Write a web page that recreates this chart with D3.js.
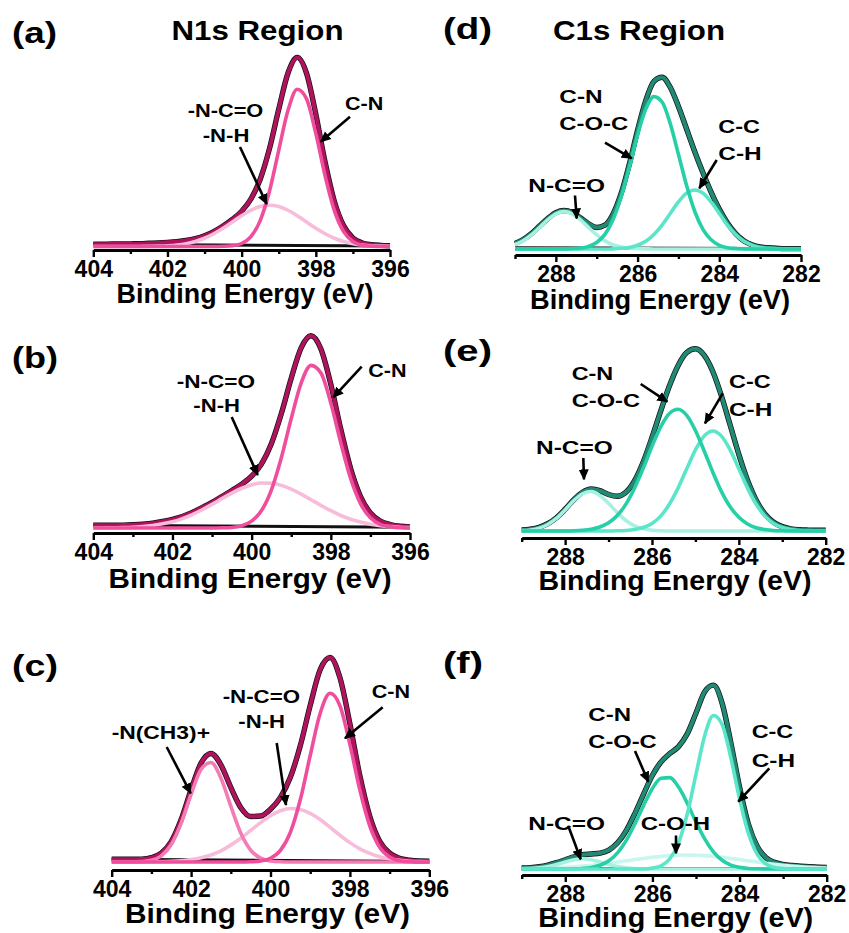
<!DOCTYPE html>
<html lang="en">
<head>
<meta charset="UTF-8">
<title>N1s and C1s XPS regions</title>
<script src="https://d3js.org/d3.v7.min.js"></script>
<style>
  body { margin: 0; background: #fff; }
</style>
</head>
<body>
<script>
// ---- data: binding energy grids (eV) ----
const n1sEnergy = [404, 403.75, 403.5, 403.25, 403, 402.75, 402.5, 402.25, 402, 401.75, 401.5, 401.25, 401, 400.75, 400.5, 400.25, 400,
  399.75, 399.5, 399.25, 399, 398.75, 398.5, 398.25, 398, 397.75, 397.5, 397.25, 397, 396.75, 396.5, 396.25, 396];
const c1sEnergy = [289, 288.8, 288.6, 288.4, 288.2, 288, 287.8, 287.6, 287.4, 287.2, 287, 286.8, 286.6, 286.4, 286.2, 286, 285.8, 285.6,
  285.4, 285.2, 285, 284.8, 284.6, 284.4, 284.2, 284, 283.8, 283.6, 283.4, 283.2, 283, 282.8, 282.6, 282.4, 282.2, 282];

const n1sTicks = [404, 402, 400, 398, 396];
const n1sMinor = [403, 401, 399, 397];
const c1sTicks = [288, 286, 284, 282];
const c1sMinor = [289, 287, 285, 283];

// ---- (a) N1s ----
const aEnvelope = [1.2, 1.2, 1.3, 1.3, 1.4, 1.5, 1.7, 1.9, 2.2, 2.6, 3.2, 4.2, 5.7, 7.9, 10.9, 14.4, 18.8,
  25.3, 35.8, 52.1, 73.1, 92.4, 100.7, 92.2, 70.4, 44.9, 24.0, 11.0, 4.6, 1.9, 1.0, 0.6, 0.4];
const aCN = [0, 0, 0, 0, 0, 0, 0, 0, 0, 0, 0, 0, 0, 0, 0.1, 0.4, 1.6,
  5.3, 13.8, 29.4, 51.2, 72.5, 83.7, 78.6, 60.2, 37.6, 19.1, 7.9, 2.7, 0.7, 0.2, 0, 0];
const aNH = [0, 0, 0, 0, 0, 0, 0.1, 0.2, 0.4, 0.8, 1.5, 2.7, 4.4, 6.8, 9.7, 13.0, 16.4,
  19.3, 21.3, 22.0, 21.3, 19.3, 16.4, 13.0, 9.7, 6.8, 4.4, 2.7, 1.5, 0.8, 0.4, 0.2, 0.1];
const aBaseline = [1.2, 0.3];

// ---- (b) N1s ----
const bEnvelope = [1.4, 1.4, 1.4, 1.5, 1.7, 2.0, 2.5, 3.4, 4.5, 6.0, 8.1, 10.6, 13.3, 16.4, 19.5, 22.8, 27.0,
  33.4, 44.0, 59.6, 78.0, 93.8, 100.1, 93.2, 74.8, 51.6, 31.0, 16.4, 7.8, 3.6, 1.8, 0.9, 0.6];
const bCN = [0, 0, 0, 0, 0, 0, 0, 0, 0, 0, 0, 0, 0, 0.1, 0.3, 1.2, 3.6,
  9.1, 19.9, 36.6, 57.0, 75.5, 84.7, 80.7, 65.1, 44.5, 25.8, 12.7, 5.3, 1.9, 0.6, 0.1, 0];
const bNH = [0, 0.1, 0.1, 0.2, 0.4, 0.8, 1.3, 2.2, 3.3, 4.9, 7.0, 9.5, 12.3, 15.3, 18.2, 20.7, 22.5,
  23.4, 23.3, 22.2, 20.2, 17.6, 14.7, 11.8, 9.0, 6.5, 4.6, 3.1, 2.0, 1.2, 0.7, 0.4, 0.2];
const bBaseline = [1.4, 0.4];

// ---- (c) N1s ----
const cEnvelope = [1.3, 1.3, 1.3, 1.4, 2.1, 4.3, 9.9, 20.6, 35.1, 48.0, 52.7, 47.2, 36.2, 26.5, 22.1, 22.3, 25.6,
  31.4, 41.1, 56.4, 76.0, 93.3, 99.3, 89.4, 67.1, 41.9, 22.2, 10.1, 4.3, 1.8, 0.9, 0.5, 0.4];
const cNCH3 = [0, 0, 0, 0.2, 0.8, 3.0, 8.5, 18.9, 32.8, 44.9, 48.3, 40.8, 27.1, 14.1, 5.8, 1.9, 0.5,
  0.1, 0, 0, 0, 0, 0, 0, 0, 0, 0, 0, 0, 0, 0, 0, 0];
const cNH = [0, 0, 0, 0, 0.1, 0.2, 0.3, 0.6, 1.2, 2.1, 3.4, 5.4, 8.2, 11.5, 15.3, 19.1, 22.5,
  24.9, 26.0, 25.5, 23.6, 20.6, 16.8, 13.0, 9.4, 6.4, 4.2, 2.5, 1.5, 0.8, 0.4, 0.2, 0.1];
const cCN = [0, 0, 0, 0, 0, 0, 0, 0, 0, 0, 0, 0, 0, 0, 0.1, 0.5, 1.8,
  5.6, 14.4, 30.2, 51.7, 72.1, 81.9, 75.8, 57.1, 35.0, 17.5, 7.1, 2.4, 0.6, 0.1, 0, 0];
const cBaseline = [1.3, 0.3];

// ---- (d) C1s ----
const dEnvelope = [3.3, 5.6, 9.1, 13.5, 17.9, 21.4, 22.7, 21.6, 18.4, 14.9, 12.7, 14.0, 20.6, 32.9, 50.2, 70.0, 87.5, 98.8,
  101.2, 95.3, 84.0, 70.7, 57.3, 44.9, 33.5, 23.5, 15.3, 9.1, 4.9, 2.5, 1.2, 0.7, 0.4, 0.2, 0.2, 0.2];
const dCN = [0, 0, 0, 0, 0, 0, 0, 0.2, 0.5, 1.5, 3.8, 8.6, 17.4, 30.8, 48.2, 67.1, 82.4, 89.8,
  86.6, 73.9, 55.8, 37.4, 22.1, 11.6, 5.4, 2.2, 0.8, 0.3, 0.1, 0, 0, 0, 0, 0, 0, 0];
const dCC = [0, 0, 0, 0, 0, 0, 0, 0, 0, 0, 0, 0, 0.1, 0.4, 0.9, 2.2, 4.5, 8.5,
  14.1, 20.9, 27.7, 32.9, 34.8, 32.9, 27.7, 20.9, 14.1, 8.5, 4.5, 2.2, 0.9, 0.4, 0.1, 0, 0, 0];
const dNCO = [2.5, 4.8, 8.3, 12.7, 17.2, 20.7, 22.0, 20.7, 17.2, 12.7, 8.3, 4.8, 2.5, 1.1, 0.5, 0.2, 0.1, 0,
  0, 0, 0, 0, 0, 0, 0, 0, 0, 0, 0, 0, 0, 0, 0, 0, 0, 0];
const dBaseline = [0.8, 0.2];

// ---- (e) C1s ----
const eEnvelope = [0.6, 1.0, 2.0, 4.0, 7.3, 12.0, 17.2, 21.3, 23.1, 22.2, 20.1, 19.1, 21.3, 27.7, 38.1, 51.5, 66.0, 79.8,
  91.0, 98.2, 100.3, 96.8, 87.8, 74.3, 58.3, 42.2, 27.9, 16.9, 9.4, 4.8, 2.4, 1.2, 0.7, 0.5, 0.4, 0.4];
const eCN = [0, 0, 0, 0, 0, 0, 0.1, 0.4, 1.0, 2.2, 4.5, 8.5, 14.8, 23.7, 34.6, 46.6, 57.3, 64.7,
  67.0, 63.6, 55.3, 44.2, 32.4, 21.7, 13.3, 7.6, 3.9, 1.8, 0.8, 0.3, 0.1, 0, 0, 0, 0, 0];
const eCC = [0, 0, 0, 0, 0, 0, 0, 0, 0, 0, 0, 0.1, 0.3, 0.8, 1.9, 4.1, 8.2, 14.7,
  23.6, 34.2, 44.6, 52.2, 55.0, 52.2, 44.6, 34.2, 23.6, 14.7, 8.2, 4.1, 1.9, 0.8, 0.3, 0.1, 0, 0];
const eNCO = [0.2, 0.6, 1.6, 3.6, 6.9, 11.6, 16.7, 20.5, 21.7, 19.6, 15.2, 10.1, 5.8, 2.8, 1.2, 0.4, 0.1, 0,
  0, 0, 0, 0, 0, 0, 0, 0, 0, 0, 0, 0, 0, 0, 0, 0, 0, 0];

// ---- (f) C1s ----
const fEnvelope = [0.5, 0.7, 1.2, 2.1, 3.4, 5.0, 6.6, 7.7, 8.1, 8.6, 10.2, 14.1, 20.7, 30.0, 40.5, 50.5, 57.7, 62.2,
  65.9, 72.8, 84.0, 95.5, 99.0, 89.2, 68.0, 44.1, 24.4, 12.4, 6.2, 3.6, 2.5, 1.9, 1.5, 1.2, 1.0, 0.8];
const fCC = [0, 0, 0, 0, 0, 0, 0, 0, 0, 0, 0, 0, 0, 0, 0, 0.5, 1.7, 5.5,
  14.1, 29.6, 51.0, 71.8, 82.7, 77.9, 59.9, 37.8, 19.4, 8.2, 2.8, 0.8, 0.2, 0, 0, 0, 0, 0];
const fCN = [0, 0, 0, 0, 0, 0, 0.1, 0.3, 0.8, 2.0, 4.4, 8.7, 15.4, 24.4, 34.4, 43.4, 48.9, 49.2,
  44.1, 35.4, 25.3, 16.2, 9.2, 4.7, 2.1, 0.9, 0.3, 0.1, 0, 0, 0, 0, 0, 0, 0, 0];
const fCOH = [0.1, 0.2, 0.3, 0.5, 0.7, 0.9, 1.2, 1.6, 2.0, 2.5, 3.1, 3.8, 4.4, 5.1, 5.7, 6.3, 6.8, 7.2,
  7.4, 7.5, 7.4, 7.2, 6.8, 6.3, 5.7, 5.1, 4.4, 3.8, 3.1, 2.5, 2.0, 1.6, 1.2, 0.9, 0.7, 0.5];
const fNCO = [0.1, 0.2, 0.6, 1.3, 2.4, 3.8, 5.0, 5.5, 5.0, 3.8, 2.4, 1.3, 0.6, 0.2, 0.1, 0, 0, 0,
  0, 0, 0, 0, 0, 0, 0, 0, 0, 0, 0, 0, 0, 0, 0, 0, 0, 0];
const fBaseline = [0.3, 0.3];

// ---- colours ----
const n1sEnv = "#b0135d", cnPink = "#ee4e9c", nch3Pink = "#f27cb3", nhPink = "#f8bcdb";
const c1sEnv = "#218a74", cnTeal = "#27cfa7", ccTeal = "#5be5c9", ncoTeal = "#a6f1e1", cohTeal = "#c9f6ee";
const FONT = "'Liberation Sans', Arial, Helvetica, sans-serif";

const width = 849, height = 933;
const svg = d3.select("body").append("svg")
    .attr("width", width)
    .attr("height", height)
    .style("background", "#fff");

svg.append("defs").append("marker")
    .attr("id", "arrow")
    .attr("viewBox", "0 -5 10 10")
    .attr("refX", 9)
    .attr("refY", 0)
    .attr("markerWidth", 11)
    .attr("markerHeight", 11)
    .attr("markerUnits", "userSpaceOnUse")
    .attr("orient", "auto")
    .append("path")
    .attr("d", "M0,-4.6L10,0L0,4.6Z")
    .attr("fill", "#000");

// layout of the six panels
const panels = [
  { energy: n1sEnergy, domain: [404, 396], x0: 93.3, x1: 390, axisY: 250, zeroY: 246.5, topY: 58.7,
    ticks: n1sTicks, minor: n1sMinor, envelope: aEnvelope, envColor: n1sEnv, baseline: aBaseline,
    comps: [[aNH, nhPink], [aCN, cnPink]],
    label: ["(a)", 12, 43, 45], title: ["N1s Region", 257.5, 40, 172], xTitle: [245, 303, 257, 27],
    notes: [["-N-C=O", 187.7, 117, 75.6], ["-N-H", 202.7, 141.7, 46.7], ["C-N", 345, 110, 38.3]],
    arrows: [[240, 147, 266.7, 204], [350, 116.7, 320.7, 141.7]] },
  { energy: n1sEnergy, domain: [404, 396], x0: 93.3, x1: 410, axisY: 533, zeroY: 528, topY: 336,
    ticks: n1sTicks, minor: n1sMinor, envelope: bEnvelope, envColor: n1sEnv, baseline: bBaseline,
    comps: [[bNH, nhPink], [bCN, cnPink]],
    label: ["(b)", 12, 368, 46], title: null, xTitle: [250, 588.3, 283, 28.5],
    notes: [["-N-C=O", 176.7, 388, 78.3], ["-N-H", 193.3, 411.7, 46.7], ["C-N", 368.3, 376.7, 38.3]],
    arrows: [[231.7, 417, 257.7, 475], [361.7, 366.7, 333.3, 397.3]] },
  { energy: n1sEnergy, domain: [404, 396], x0: 111.7, x1: 429.3, axisY: 870, zeroY: 862, topY: 656,
    ticks: n1sTicks, minor: n1sMinor, envelope: cEnvelope, envColor: n1sEnv, baseline: cBaseline,
    comps: [[cNH, nhPink], [cNCH3, nch3Pink], [cCN, cnPink]],
    label: ["(c)", 12, 676, 46], title: null, xTitle: [267.5, 923.3, 285, 28.5],
    notes: [["-N(CH3)+", 111.7, 739.3, 98.3], ["-N-C=O", 222.7, 703.3, 77.3], ["-N-H", 238.3, 728.3, 46.7], ["C-N", 371.7, 698.3, 38.3]],
    arrows: [[166.7, 747, 190.7, 793.3], [276.7, 743, 286, 805], [382.7, 707.3, 345, 738.3]] },
  { energy: c1sEnergy, domain: [289, 282], x0: 515, x1: 801, axisY: 255, zeroY: 249, topY: 79.3,
    ticks: c1sTicks, minor: c1sMinor, envelope: dEnvelope, envColor: c1sEnv, baseline: dBaseline,
    comps: [[dNCO, ncoTeal], [dCC, ccTeal], [dCN, cnTeal]],
    label: ["(d)", 443, 39, 49], title: ["C1s Region", 639, 40, 172], xTitle: [660, 309, 260, 27],
    notes: [["C-N", 559.3, 103, 43.3], ["C-O-C", 559.3, 130, 69], ["C-C", 718.3, 132.7, 41.7], ["C-H", 718.3, 160, 43.4], ["N-C=O", 528.3, 191.7, 76.7]],
    arrows: [[605, 142.7, 631.7, 158.3], [716.7, 160, 699.3, 188.3], [575, 195.5, 576.7, 218.3]] },
  { energy: c1sEnergy, domain: [289, 282], x0: 521.7, x1: 825.7, axisY: 538, zeroY: 531, topY: 349.3,
    ticks: c1sTicks, minor: c1sMinor, envelope: eEnvelope, envColor: c1sEnv, baseline: null,
    comps: [[eNCO, ncoTeal], [eCC, ccTeal], [eCN, cnTeal]],
    label: ["(e)", 443, 361, 49], title: null, xTitle: [675, 590, 273, 28.5],
    notes: [["C-N", 571.7, 380, 41.6], ["C-O-C", 571.7, 407.3, 68.3], ["C-C", 729, 388.3, 41.7], ["C-H", 729, 416, 43.3], ["N-C=O", 536, 454, 76.7]],
    arrows: [[640.7, 384, 667.3, 401.7], [722.7, 393.3, 705, 423.3], [583.3, 458, 584, 479.3]] },
  { energy: c1sEnergy, domain: [289, 282], x0: 521.7, x1: 826.7, axisY: 875, zeroY: 869, topY: 683.3,
    ticks: c1sTicks, minor: c1sMinor, envelope: fEnvelope, envColor: c1sEnv, baseline: fBaseline,
    comps: [[fCOH, cohTeal], [fNCO, ncoTeal], [fCN, cnTeal], [fCC, ccTeal]],
    label: ["(f)", 443, 673, 40], title: null, xTitle: [675.7, 927, 275, 28.5],
    notes: [["C-N", 588.3, 720.7, 42.7], ["C-O-C", 588.3, 748.3, 68.4], ["C-C", 751.7, 738.3, 41.6], ["C-H", 751.7, 766.7, 43.3],
            ["N-C=O", 528.3, 830, 76.7], ["C-O-H", 640.7, 830, 69.3]],
    arrows: [[635, 751, 648.3, 781.7], [769.3, 768.3, 738.3, 801.7], [568.3, 826, 580.7, 859.3], [676, 835.5, 676, 853.3]] }
];

function boldText(g, str, x, y, size, len, anchor) {
  const t = g.append("text")
      .attr("x", x)
      .attr("y", y)
      .attr("font-family", FONT)
      .attr("font-weight", "bold")
      .attr("font-size", size)
      .attr("fill", "#000")
      .attr("text-anchor", anchor || "start")
      .text(str);
  if (len) t.attr("textLength", len).attr("lengthAdjust", "spacingAndGlyphs");
  return t;
}

panels.forEach(p => {
  const x = d3.scaleLinear().domain(p.domain).range([p.x0, p.x1]);
  const y = d3.scaleLinear().domain([0, 100]).range([p.zeroY, p.topY]);
  const g = svg.append("g");

  const line = d3.line()
      .x((d, i) => x(p.energy[i]))
      .y(d => y(d))
      .curve(d3.curveMonotoneX);

  // bottom axis, major + minor ticks
  const axis = g.append("g")
      .attr("transform", `translate(0,${p.axisY})`)
      .call(d3.axisBottom(x).tickValues(p.ticks).tickSize(7).tickSizeOuter(0).tickPadding(4).tickFormat(d3.format("d")));
  axis.select(".domain").attr("stroke", "#000").attr("stroke-width", 3);
  axis.selectAll(".tick line").attr("stroke", "#000").attr("stroke-width", 2.4);
  axis.selectAll(".tick text")
      .attr("font-family", FONT)
      .attr("font-weight", "bold")
      .attr("font-size", 23)
      .attr("fill", "#000");

  const minor = g.append("g")
      .attr("transform", `translate(0,${p.axisY})`)
      .call(d3.axisBottom(x).tickValues(p.minor).tickSize(4).tickSizeOuter(0).tickFormat(""));
  minor.select(".domain").remove();
  minor.selectAll(".tick line").attr("stroke", "#000").attr("stroke-width", 2.4);

  // fitted background
  if (p.baseline) {
    g.append("line")
        .attr("x1", x(p.domain[0])).attr("y1", y(p.baseline[0]))
        .attr("x2", x(p.domain[1])).attr("y2", y(p.baseline[1]))
        .attr("stroke", "#111")
        .attr("stroke-width", 3);
  }

  // raw data (black) under the envelope
  g.append("path")
      .datum(p.envelope)
      .attr("d", line)
      .attr("fill", "none")
      .attr("stroke", "#111")
      .attr("stroke-width", 5.4);
  g.append("path")
      .datum(p.envelope)
      .attr("d", line)
      .attr("fill", "none")
      .attr("stroke", p.envColor)
      .attr("stroke-width", 4);

  // components
  p.comps.forEach(([vals, color]) => {
    g.append("path")
        .datum(vals)
        .attr("d", line)
        .attr("fill", "none")
        .attr("stroke", color)
        .attr("stroke-width", 3.6);
  });

  // labels
  boldText(g, p.label[0], p.label[1], p.label[2], 30, p.label[3]);
  if (p.title) boldText(g, p.title[0], p.title[1], p.title[2], 27, p.title[3], "middle");
  boldText(g, "Binding Energy (eV)", p.xTitle[0], p.xTitle[1], p.xTitle[3], p.xTitle[2], "middle");

  p.notes.forEach(n => boldText(g, n[0], n[1], n[2], 18, n[3]));
  p.arrows.forEach(a => {
    g.append("line")
        .attr("x1", a[0]).attr("y1", a[1])
        .attr("x2", a[2]).attr("y2", a[3])
        .attr("stroke", "#000")
        .attr("stroke-width", 2.6)
        .attr("marker-end", "url(#arrow)");
  });
});
</script>
</body>
</html>
